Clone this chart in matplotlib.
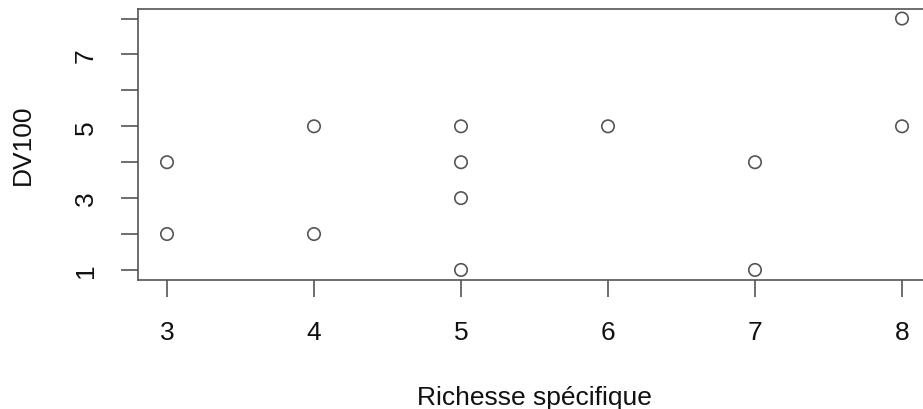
import matplotlib
matplotlib.use("Agg")
import matplotlib.pyplot as plt

richesse = [3, 3, 4, 4, 5, 5, 5, 5, 6, 7, 7, 8, 8]
dv100 = [4, 2, 5, 2, 5, 4, 3, 1, 5, 4, 1, 8, 5]
xticks = [3, 4, 5, 6, 7, 8]
yticks = [1, 2, 3, 4, 5, 6, 7, 8]
ytick_labels = ["1", "", "3", "", "5", "", "7", ""]

plt.rcParams['font.family'] = ['Liberation Sans', 'DejaVu Sans']

fig = plt.figure(figsize=(9.23, 4.10), dpi=100)
left = 137.6 / 923
right = 931.4 / 923
bottom = 1 - 281 / 410
top = 1 - 9.5 / 410
ax = fig.add_axes([left, bottom, right - left, top - bottom])

ax.scatter(richesse, dv100, s=80, facecolors='none', edgecolors='#555555', linewidths=1.2, zorder=3)

xmin, xmax = min(richesse), max(richesse)
ymin, ymax = min(dv100), max(dv100)
dx = (xmax - xmin) * 0.04
dy = (ymax - ymin) * 0.04
ax.set_xlim(xmin - dx, xmax + dx)
ax.set_ylim(ymin - dy, ymax + dy)

ax.set_xticks(xticks)
ax.set_xticklabels([str(t) for t in xticks])
ax.set_yticks(yticks)
ax.set_yticklabels(ytick_labels, rotation=90, va='center')

for s in ax.spines.values():
    s.set_color('#555555')
    s.set_linewidth(1.2)

ax.tick_params(axis='both', length=12.5, width=1.2, color='#555555', labelsize=19, labelcolor='#111111')
ax.tick_params(axis='x', pad=16)
ax.tick_params(axis='y', pad=16)

ax.set_xlabel("Richesse spécifique", fontsize=19, color='#111111', labelpad=30)
ax.set_ylabel("DV100", fontsize=19, color='#111111', labelpad=28)

fig.savefig("out.png", dpi=100)
